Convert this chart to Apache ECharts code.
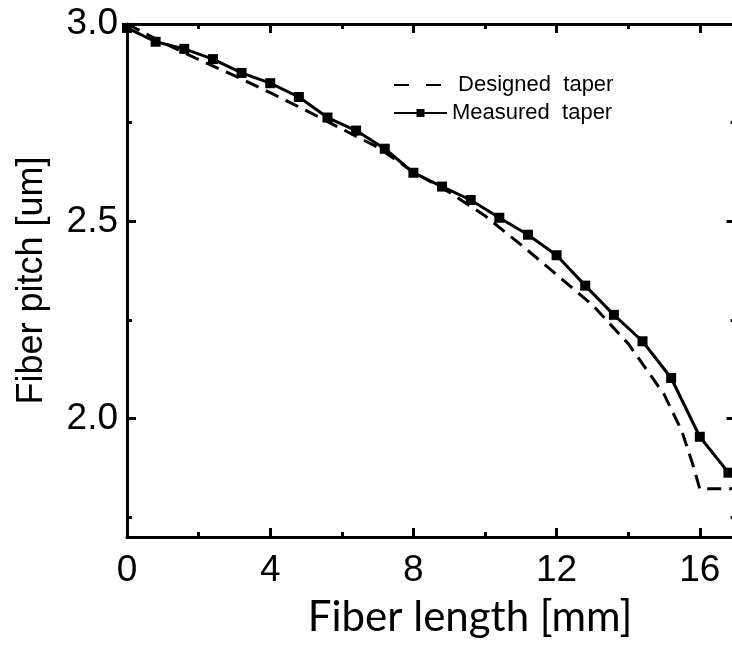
<!DOCTYPE html>
<html>
<head>
<meta charset="utf-8">
<script src="https://cdn.jsdelivr.net/npm/echarts@6/dist/echarts.min.js"></script>
<style>
  html, body { margin: 0; padding: 0; background: #fff; }
  #chart { width: 732px; height: 667px; }
</style>
</head>
<body>
<div id="chart"></div>
<script>
// Measured fiber pitch along the taper (mm, um)
const measuredLength = [0, 0.8, 1.6, 2.4, 3.2, 4.0, 4.8, 5.6, 6.4, 7.2, 8.0, 8.8,
                        9.6, 10.4, 11.2, 12.0, 12.8, 13.6, 14.4, 15.2, 16.0, 16.8];
const measuredPitch  = [2.99, 2.955, 2.937, 2.911, 2.876, 2.850, 2.815, 2.763, 2.730, 2.684, 2.623, 2.588,
                        2.554, 2.509, 2.466, 2.414, 2.337, 2.263, 2.196, 2.103, 1.954, 1.863];

// Designed taper profile (mm, um)
const designedLength = [0, 1, 2, 3, 4, 5, 6, 7, 8, 9, 10, 11, 12, 13, 14, 15, 15.5, 15.8, 16.0, 17];
const designedPitch  = [3.0, 2.953, 2.910, 2.869, 2.826, 2.781, 2.734, 2.688, 2.625, 2.574, 2.514, 2.441,
                        2.365, 2.288, 2.190, 2.062, 1.968, 1.885, 1.822, 1.822];

// Axis ticks and labels
const lengthMajorTicks = [0, 4, 8, 12, 16];
const lengthMinorTicks = [2, 6, 10, 14];
const pitchMajorTicks  = [2.0, 2.5, 3.0];
const pitchMinorTicks  = [1.75, 2.25, 2.75];

const measuredName = 'Measured  taper';
const designedName = 'Designed  taper';

const X_MIN = 0, X_MAX = 17, Y_MIN = 1.7, Y_MAX = 3.0;
const BLACK = '#000';
const tickFont = 'Liberation Sans';

function axis(kind, position, ticks, len, withLine, withLabels) {
  const a = {
    type: 'value',
    position: position,
    min: kind === 'x' ? X_MIN : Y_MIN,
    max: kind === 'x' ? X_MAX : Y_MAX,
    splitLine: { show: false },
    axisLine: { show: withLine, onZero: false, lineStyle: { color: BLACK, width: 3 } },
    axisTick: { show: true, inside: true, length: len, customValues: ticks,
                lineStyle: { color: BLACK, width: 3 } },
    axisLabel: { show: false },
    splitArea: { show: false }
  };
  if (withLabels) {
    a.axisLabel = {
      show: true,
      customValues: ticks,
      color: BLACK,
      fontFamily: tickFont,
      fontSize: 37,
      margin: kind === 'x' ? 15 : 9,
      formatter: kind === 'x' ? (v => String(v)) : (v => v.toFixed(1))
    };
  }
  return a;
}

const xAxes = [
  axis('x', 'bottom', lengthMajorTicks, 9, true, true),
  axis('x', 'bottom', lengthMinorTicks, 5, false, false),
  axis('x', 'top', lengthMajorTicks, 9, true, false),
  axis('x', 'top', lengthMinorTicks, 5, false, false)
];
const yAxes = [
  axis('y', 'left', pitchMajorTicks, 9, true, true),
  axis('y', 'left', pitchMinorTicks, 5, false, false),
  axis('y', 'right', pitchMajorTicks, 9, true, false),
  axis('y', 'right', pitchMinorTicks, 5, false, false)
];
yAxes[0].name = 'Fiber pitch [um]';
yAxes[0].nameLocation = 'middle';
yAxes[0].nameRotate = 90;
yAxes[0].nameGap = 77;
yAxes[0].nameTextStyle = { fontFamily: tickFont, fontSize: 36, color: BLACK };

const chart = echarts.init(document.getElementById('chart'), null, { renderer: 'canvas' });
chart.setOption({
  animation: false,
  backgroundColor: '#fff',
  grid: { left: 127, top: 24, right: -3.6, bottom: 130, containLabel: false, outerBoundsMode: 'none' },
  xAxis: xAxes,
  yAxis: yAxes,
  legend: {
    orient: 'vertical',
    left: 388,
    top: 69,
    itemWidth: 53,
    itemHeight: 10,
    itemGap: 6,
    textStyle: { fontFamily: tickFont, fontSize: 22, color: BLACK },
    formatter: name => (name === designedName ? ' ' + name : name),
    data: [
      { name: designedName, lineStyle: { type: [15, 17] }, itemStyle: { opacity: 0 } },
      { name: measuredName }
    ]
  },
  graphic: [{
    type: 'text',
    x: 470,
    y: 617,
    style: {
      text: 'Fiber length [mm]',
      font: '42px Lato',
      fill: BLACK,
      textAlign: 'center',
      textVerticalAlign: 'middle'
    }
  }],
  series: [
    {
      name: designedName,
      type: 'line',
      xAxisIndex: 0,
      yAxisIndex: 0,
      symbol: 'none',
      data: designedLength.map((x, i) => [x, designedPitch[i]]),
      lineStyle: { color: BLACK, width: 3, type: [14, 8] },
      itemStyle: { color: BLACK },
      z: 2
    },
    {
      name: measuredName,
      type: 'line',
      xAxisIndex: 0,
      yAxisIndex: 0,
      symbol: 'rect',
      symbolSize: 10,
      data: measuredLength.map((x, i) => [x, measuredPitch[i]]),
      lineStyle: { color: BLACK, width: 3 },
      itemStyle: { color: BLACK },
      z: 3
    }
  ]
});
</script>
</body>
</html>
